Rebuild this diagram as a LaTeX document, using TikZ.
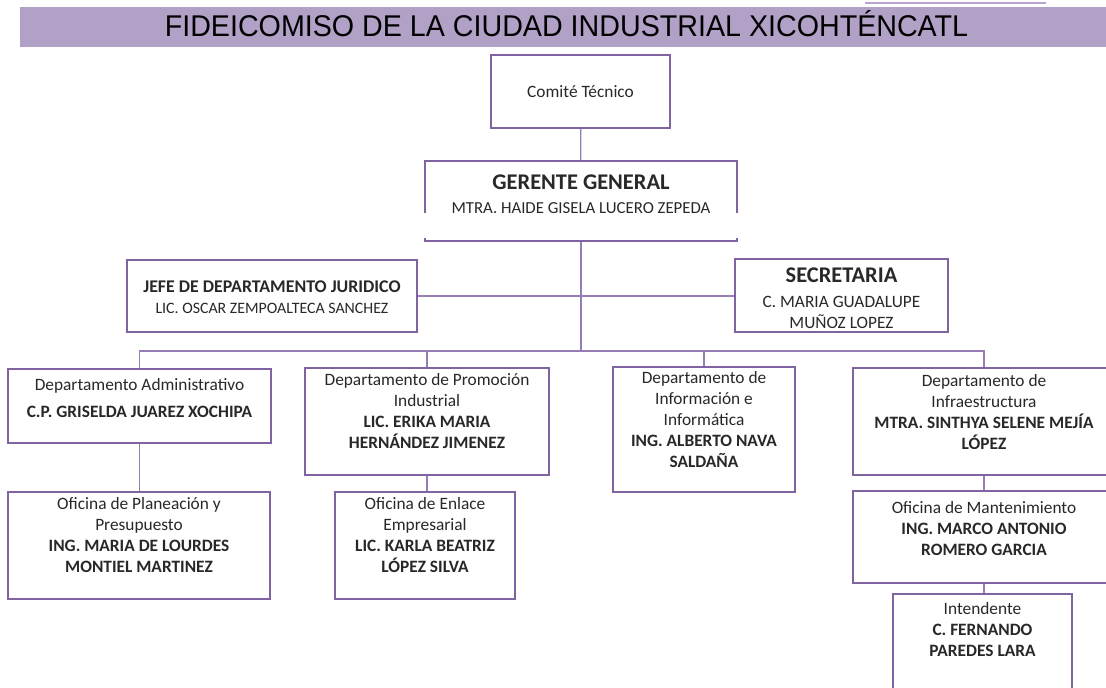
\documentclass[tikz,border=0pt]{standalone}
\usepackage{fontspec}
\usepackage{graphicx}
\setmainfont{Carlito}
\newfontfamily\titlefont{Liberation Sans}
\usepackage{tikz}
\definecolor{title_purple}{RGB}{178,161,199}
\definecolor{box_purple}{RGB}{128,100,162}
\definecolor{edge_purple}{RGB}{150,125,182}
\definecolor{text_gray}{RGB}{40,40,40}
\newdimen\px \px=0.75pt
\newcommand{\cajatop}[4]{\parbox[t][#2\px][t]{#1\px}{\centering\rule{0pt}{#3\px}#4}}
\newcommand{\txtreg}{\fontsize{13}{15.75}\selectfont\mdseries}
\newcommand{\txtbig}{\fontsize{16.8}{19.8}\selectfont\bfseries}

\begin{document}
\begin{tikzpicture}[x=0.75pt,y=-0.75pt]
    \tikzstyle{caja}=[draw=box_purple, line width=1.5pt, fill=white, inner sep=0pt, text=text_gray]
    \tikzstyle{linea}=[draw=edge_purple, line width=1pt]
    \useasboundingbox (0,0) rectangle (1106,688);

    % encabezado
    \draw[edge_purple!70, line width=0.8pt] (865,3) -- (1046,3);
    \fill[title_purple] (20,7) rectangle (1106,47);
    \node[anchor=base, inner sep=0pt] (titulo) at (566.5,37)
      {\titlefont\fontsize{22.5}{22.5}\selectfont\scalebox{0.955}[1]{FIDEICOMISO DE LA CIUDAD INDUSTRIAL XICOHTÉNCATL}};

    % direccion
    \node[caja] (comite)  at (580.5,91.5) {\cajatop{179}{73}{42.5}{\txtreg Comité Técnico}};
    \node[caja] (gerente) at (581,201)    {\cajatop{312}{80}{29}{\txtbig GERENTE GENERAL\par
      \fontsize{12.6}{17.6}\selectfont\mdseries MTRA. HAIDE GISELA LUCERO ZEPEDA}};
    \fill[white] (421,213) rectangle (741,238);
    \node[caja] (juridico)   at (272,296)     {\cajatop{290}{72}{32.5}{\fontsize{13.4}{15.75}\selectfont\bfseries JEFE DE DEPARTAMENTO JURIDICO\par
      \fontsize{11.9}{15.75}\selectfont\mdseries LIC. OSCAR ZEMPOALTECA SANCHEZ}};
    \node[caja] (secretaria) at (841.5,295.5) {\cajatop{213}{73}{23}{\txtbig SECRETARIA\par
      \fontsize{13}{18.75}\selectfont\mdseries C. MARIA GUADALUPE\par
      \fontsize{13}{15.75}\selectfont MUÑOZ LOPEZ}};

    % departamentos
    \node[caja] (admin)       at (139.5,406) {\cajatop{263}{74}{21.5}{\txtreg Departamento Administrativo\\[6\px]\bfseries C.P. GRISELDA JUAREZ XOCHIPA}};
    \node[caja] (promocion)   at (427,421.5) {\cajatop{244}{107}{17.5}{\txtreg Departamento de Promoción\\Industrial\\\bfseries LIC. ERIKA MARIA\\HERNÁNDEZ JIMENEZ}};
    \node[caja] (informacion) at (704,429.5) {\cajatop{182}{125}{16.5}{\txtreg Departamento de\\Información e\\Informática\\\bfseries ING. ALBERTO NAVA\\SALDAÑA}};
    \node[caja] (infra)       at (984,421.5) {\cajatop{262}{107}{18.5}{\txtreg Departamento de\\Infraestructura\\\bfseries MTRA. SINTHYA SELENE MEJÍA\\LÓPEZ}};

    % oficinas
    \node[caja] (planeacion)    at (139,545.5)  {\cajatop{262}{107}{17.5}{\txtreg Oficina de Planeación y\\Presupuesto\\\bfseries ING. MARIA DE LOURDES\\MONTIEL MARTINEZ}};
    \node[caja] (enlace)        at (425,545.5)  {\cajatop{180}{107}{17.5}{\txtreg Oficina de Enlace\\Empresarial\\\bfseries LIC. KARLA BEATRIZ\\LÓPEZ SILVA}};
    \node[caja] (mantenimiento) at (984,537)    {\cajatop{262}{92}{22.5}{\txtreg Oficina de Mantenimiento\\\bfseries ING. MARCO ANTONIO\\ROMERO GARCIA}};
    \node[caja] (intendente)    at (982.5,647)  {\cajatop{179}{106}{20.5}{\txtreg Intendente\\\bfseries C. FERNANDO\\PAREDES LARA}};

    % conectores
    \coordinate (bus) at (581,351);
    \path[linea]
     (comite) edge (gerente)
     (juridico.east) edge (juridico.east -| secretaria.west)
     ;
    \draw[linea] (gerente.south) -- (bus);
    \draw[linea] (admin.north) |- (bus) -| (infra.north);
    \draw[linea] (promocion.north) -- (promocion.north |- bus);
    \draw[linea] (informacion.north) -- (informacion.north |- bus);
    \draw[linea] (admin.south) -- (admin.south |- planeacion.north);
    \draw[linea] (promocion.south) -- (promocion.south |- enlace.north);
    \draw[linea] (infra.south) -- (mantenimiento.north);
    \draw[linea] (mantenimiento.south) -- (mantenimiento.south |- intendente.north);
\end{tikzpicture}
\end{document}
